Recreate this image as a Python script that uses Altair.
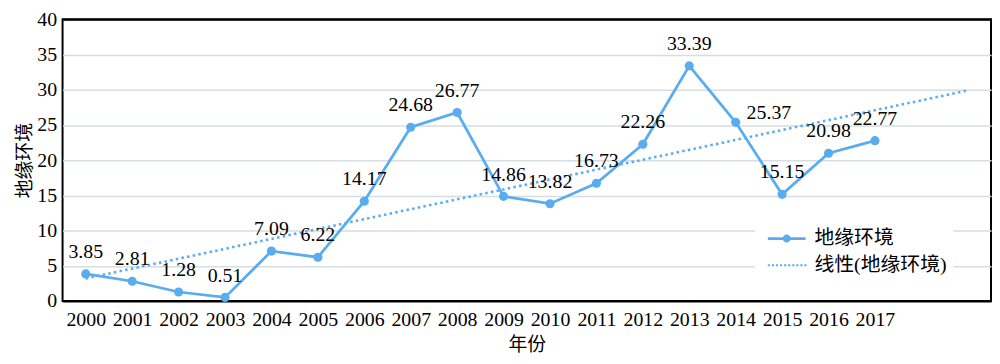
import altair as alt
import pandas as pd

# ---- data ----
years = list(range(2000, 2018))
values = [3.85, 2.81, 1.28, 0.51, 7.09, 6.22, 14.17, 24.68, 26.77, 14.86,
          13.82, 16.73, 22.26, 33.39, 25.37, 15.15, 20.98, 22.77]
label_side = ["above"] * 14 + ["right"] + ["above"] * 3
axis_years = years + [2018, 2019]
trend_years = [2000, 2019]
trend_values = [3.2, 29.9]
y_ticks = [0, 5, 10, 15, 20, 25, 30, 35, 40]
series_name = "地缘环境"
trend_name = "线性(地缘环境)"
x_title = "年份"
y_title = "地缘环境"

NUM_FONT = "Liberation Serif"
CJK_FONT = "Noto Sans CJK SC"
MIX_FONT = "Liberation Serif, Noto Sans CJK SC"
COLOR = "#5AACF0"
GRID = "#D5DEE0"

df = pd.DataFrame({"year": years, "value": values, "side": label_side})
trend_df = pd.DataFrame({"year": trend_years, "value": trend_values})
legend_df = pd.DataFrame({"series": [series_name, trend_name], "year": [2000, 2000], "value": [0, 0]})

# legend symbol paths (unit coords; 1 unit = sqrt(size)/2 px)
path_line_dot = ("M-3.8,-0.27H-0.7V0.27H-3.8Z M0.7,-0.27H3.8V0.27H0.7Z "
                 "M-0.8,0A0.8,0.8 0 1,1 0.8,0A0.8,0.8 0 1,1 -0.8,0Z")
dots = []
for k in range(10):
    x0 = -3.8 + k * 0.82
    dots.append(f"M{x0:.2f},-0.21H{x0 + 0.42:.2f}V0.21H{x0:.2f}Z")
path_dotted = " ".join(dots)

x_edge = "(datum.value == 2000 || datum.extra)"
y_edge = "(datum.value == 0 || datum.value == 40)"

x_enc = alt.X(
    "year:O",
    scale=alt.Scale(type="band", domain=axis_years, paddingInner=0, paddingOuter=0),
    axis=alt.Axis(
        title=x_title, labelAngle=0, tickBand="extent", ticks=False, domain=False,
        labelExpr="datum.value > 2017 ? '' : datum.label",
        labelFont=NUM_FONT, labelFontSize=20, labelColor="#000", labelPadding=9,
        titleFont=CJK_FONT, titleFontSize=19, titleFontWeight="normal", titleColor="#000",
        titlePadding=6,
        gridColor={"condition": {"test": x_edge, "value": "#000"}, "value": GRID},
        gridWidth={"condition": {"test": x_edge, "value": 2}, "value": 1.5},
    ),
)
y_enc = alt.Y(
    "value:Q",
    scale=alt.Scale(domain=[0, 40], nice=False),
    axis=alt.Axis(
        title=y_title, values=y_ticks, ticks=False, domain=False,
        labelFont=NUM_FONT, labelFontSize=20, labelColor="#000", labelPadding=6,
        titleFont=CJK_FONT, titleFontSize=19, titleFontWeight="normal", titleColor="#000",
        titlePadding=2,
        gridColor={"condition": {"test": y_edge, "value": "#000"}, "value": GRID},
        gridWidth={"condition": {"test": y_edge, "value": 2}, "value": 1.5},
    ),
)

base = alt.Chart(df)

trend = alt.Chart(trend_df).mark_line(
    color=COLOR, strokeWidth=2.6, strokeDash=[2.5, 3.3]
).encode(x=x_enc, y=y_enc)

line = base.mark_line(color=COLOR, strokeWidth=2.75).encode(x=x_enc, y=y_enc)
pts = base.mark_circle(color=COLOR, size=85, opacity=1).encode(x=x_enc, y=y_enc)

labels_above = base.transform_filter("datum.side == 'above'").mark_text(
    font=NUM_FONT, fontSize=20, color="#000", dy=-22, baseline="middle"
).encode(x=x_enc, y=y_enc, text=alt.Text("value:Q", format=".2f"))

labels_right = base.transform_filter("datum.side == 'right'").mark_text(
    font=NUM_FONT, fontSize=20, color="#000", dx=11, dy=-9, align="left", baseline="middle"
).encode(x=x_enc, y=y_enc, text=alt.Text("value:Q", format=".2f"))

legend_layer = alt.Chart(legend_df).transform_filter("false").mark_point(
    filled=True, color=COLOR, opacity=1
).encode(
    x=x_enc, y=y_enc,
    shape=alt.Shape(
        "series:N",
        scale=alt.Scale(domain=[series_name, trend_name], range=[path_line_dot, path_dotted]),
        legend=alt.Legend(
            title=None, orient="none", legendX=698, legendY=205,
            fillColor="white", padding=6, symbolSize=100, symbolStrokeWidth=0,
            symbolOffset=16, labelOffset=18, rowPadding=7,
            labelFont=MIX_FONT, labelFontSize=20, labelColor="#000", labelLimit=400,
        ),
    ),
)

chart = alt.layer(trend, line, pts, labels_above, labels_right, legend_layer).properties(
    width=992, height=348,
    autosize=alt.AutoSizeParams(type="fit", contains="padding"),
    padding={"left": 8, "top": 0, "right": 1, "bottom": 0},
).configure(
    background="white",
    view=alt.ViewConfig(stroke="#000", strokeWidth=2),
)

chart.save("out.html", embed_options={"renderer": "svg", "actions": False})
